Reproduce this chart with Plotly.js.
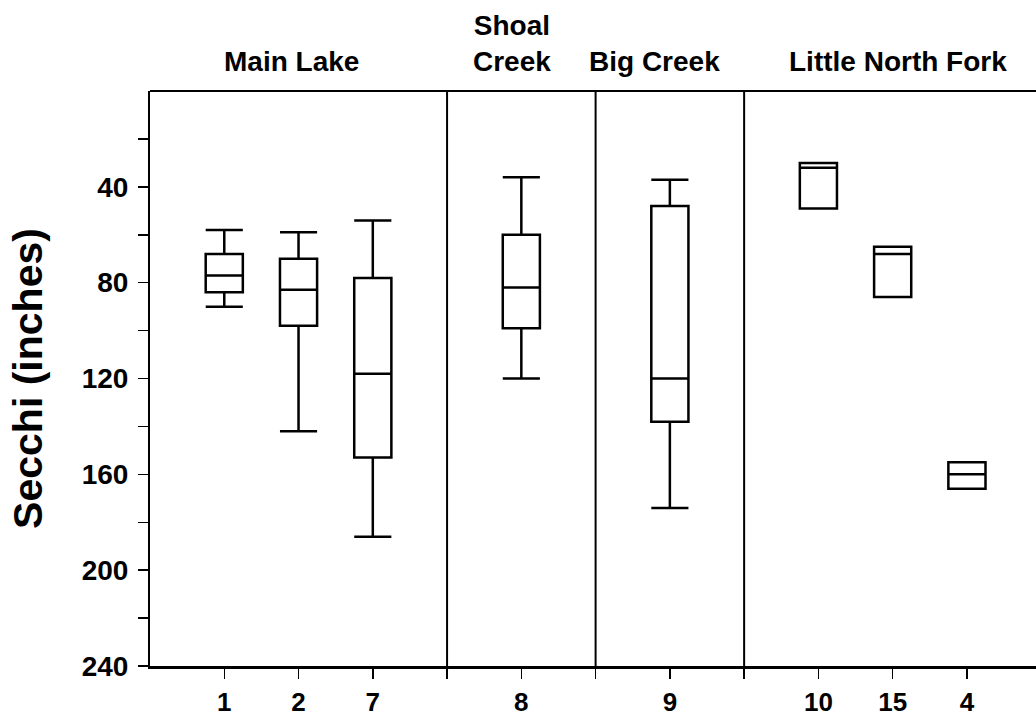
<!DOCTYPE html>
<html>
<head>
<meta charset="utf-8">
<script src="https://cdn.plot.ly/plotly-3.0.1.min.js"></script>
<style>html,body{margin:0;padding:0;background:#fff;}#chart{width:1036px;height:721px;}</style>
</head>
<body>
<div id="chart"></div>
<script>
// ---- data (Secchi depth, inches) ----
const sites        = ['1', '2', '7', '8', '9', '10', '15', '4'];
const siteGroups   = ['Main Lake', 'Main Lake', 'Main Lake', 'Shoal<br>Creek', 'Big Creek',
                      'Little North Fork', 'Little North Fork', 'Little North Fork'];
const whiskerLow   = [58, 59, 54, 36, 37, 30, 65, 155];   // shallow whisker end
const q1Values     = [68, 70, 78, 60, 48, 30, 65, 155];
const medianValues = [77, 83, 118, 82, 120, 32, 68, 160];
const q3Values     = [84, 98, 153, 99, 138, 49, 86, 166];
const whiskerHigh  = [90, 142, 186, 120, 174, 49, 86, 166]; // deep whisker end
const yTickVals    = [20, 40, 60, 80, 100, 120, 140, 160, 180, 200, 220, 240];
const yTickLabels  = ['', '40', '', '80', '', '120', '', '160', '', '200', '', '240'];

// ---- slot layout: one slot per site, one empty slot between groups ----
const slots = [];
const dividers = [];
let pos = 0;
sites.forEach((s, i) => {
  if (i > 0 && siteGroups[i] !== siteGroups[i - 1]) { pos += 1; dividers.push(pos); }
  pos += 1;
  slots.push(pos);
});
const groupNames = [...new Set(siteGroups)];
const groupCenters = groupNames.map(g => {
  const p = slots.filter((_, i) => siteGroups[i] === g);
  return p.reduce((a, b) => a + b, 0) / p.length;
});

const FONT = 'Liberation Sans, Arial, sans-serif';

const trace = {
  type: 'box',
  x: slots,
  q1: q1Values,
  median: medianValues,
  q3: q3Values,
  lowerfence: whiskerLow,
  upperfence: whiskerHigh,
  width: 0.5,
  whiskerwidth: 1,
  fillcolor: 'rgba(255,255,255,0)',
  line: {color: '#000', width: 2.5},
  hoverinfo: 'skip',
  showlegend: false
};

const xTickVals = slots.concat(dividers);
const xTickText = sites.concat(dividers.map(() => ''));

const groupShift = [-7, -9, -15, 5];
const annotations = groupNames.map((g, i) => ({
  text: '<b>' + g + '</b>',
  x: groupCenters[i], xref: 'x',
  y: 1, yref: 'paper',
  xanchor: 'center', yanchor: 'bottom',
  xshift: groupShift[i], yshift: 12,
  showarrow: false,
  font: {family: FONT, size: 28, color: '#000'}
}));

const shapes = dividers.map(d => ({
  type: 'line', xref: 'x', yref: 'paper', x0: d, x1: d, y0: 0, y1: 1,
  line: {color: '#000', width: 2}
}));
shapes.push({type: 'line', xref: 'paper', yref: 'paper', x0: 0, x1: 1, y0: 1, y1: 1,
  line: {color: '#000', width: 2}});

const layout = {
  width: 1036, height: 721,
  margin: {l: 150, r: 0, t: 91, b: 55, pad: 0},
  paper_bgcolor: '#fff', plot_bgcolor: '#fff',
  font: {family: FONT, color: '#000'},
  xaxis: {
    range: [0, 11.93],
    tickmode: 'array', tickvals: xTickVals, ticktext: xTickText,
    ticks: 'outside', ticklen: 10, tickwidth: 1.5, tickcolor: '#000',
    showline: true, linecolor: '#000', linewidth: 3,
    showgrid: false, zeroline: false,
    tickfont: {family: FONT, size: 26, color: '#000', weight: 'bold'},
    ticklabelstandoff: 1,
    fixedrange: true
  },
  yaxis: {
    range: [240, 0],
    tickmode: 'array', tickvals: yTickVals, ticktext: yTickLabels,
    ticks: 'outside', ticklen: 10, tickwidth: 1.5, tickcolor: '#000',
    showline: true, linecolor: '#000', linewidth: 2,
    showgrid: false, zeroline: false,
    tickfont: {family: FONT, size: 28, color: '#000', weight: 'bold'},
    ticklabelstandoff: 4,
    title: {text: '<b>Secchi (inches)</b>', font: {family: FONT, size: 41, color: '#000'}, standoff: 26},
    fixedrange: true
  },
  shapes: shapes,
  annotations: annotations
};

Plotly.newPlot('chart', [trace], layout, {displayModeBar: false, staticPlot: true});
</script>
</body>
</html>
